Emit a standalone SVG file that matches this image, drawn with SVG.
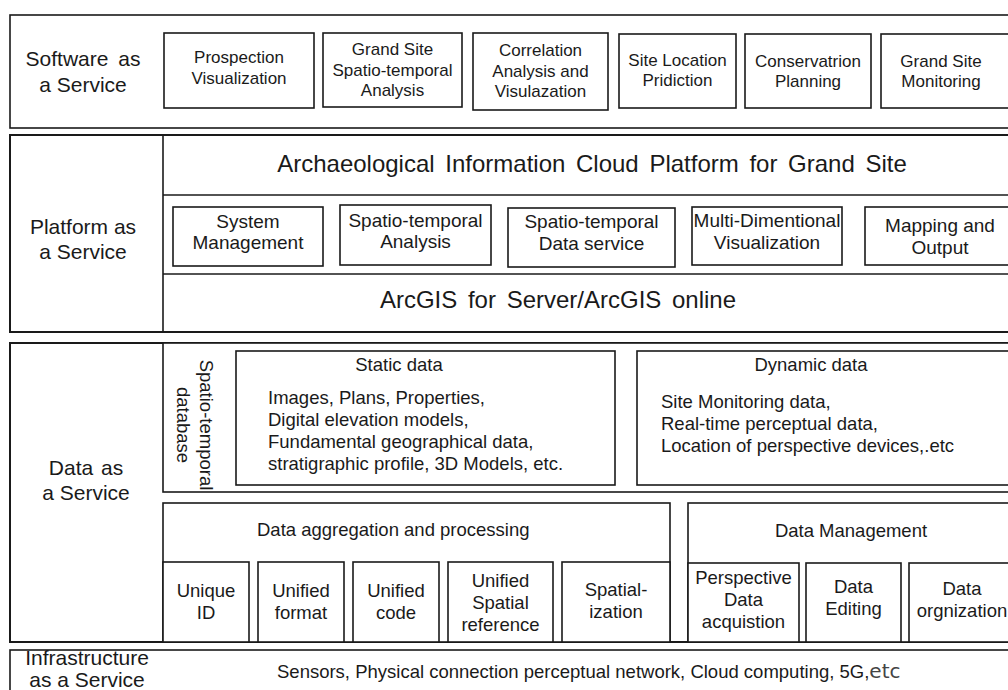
<svg xmlns="http://www.w3.org/2000/svg" width="1008" height="690" viewBox="0 0 1008 690">
<style>
text{font-family:"Liberation Sans",Arial,sans-serif;fill:#1a1a1a}
.b{fill:#fff;stroke:#1a1a1a;stroke-width:1.6}
.n{fill:none;stroke:#1a1a1a;stroke-width:1.6}
.L{font-size:21px;text-anchor:middle}
.s{font-size:17px;text-anchor:middle}
.p{font-size:19px;text-anchor:middle}
.d{font-size:18.5px}
.dm{font-size:18.5px;text-anchor:middle}
.t{font-size:24px;text-anchor:middle;word-spacing:4px}
</style>
<rect width="1008" height="690" fill="#fff"/>

<g id="saas">
<rect class="b" x="10" y="15" width="1010" height="113"/>
<text class="L" x="83" y="66" style="word-spacing:4px">Software as</text>
<text class="L" x="83" y="92">a Service</text>
</g>
<g id="prospection"><rect class="b" x="164" y="33" width="150" height="75"/>
<text class="s" x="239" y="63">Prospection</text><text class="s" x="239" y="84">Visualization</text></g>
<g id="grandsite-st"><rect class="b" x="323" y="33" width="139" height="74"/>
<text class="s" x="392.5" y="55">Grand Site</text><text class="s" x="392.5" y="75.5">Spatio-temporal</text><text class="s" x="392.5" y="96">Analysis</text></g>
<g id="correlation"><rect class="b" x="473" y="33" width="135" height="77"/>
<text class="s" x="540.5" y="56">Correlation</text><text class="s" x="540.5" y="77">Analysis and</text><text class="s" x="540.5" y="97">Visulazation</text></g>
<g id="site-location"><rect class="b" x="619" y="34" width="117" height="74"/>
<text class="s" x="677.5" y="66">Site Location</text><text class="s" x="677.5" y="86">Pridiction</text></g>
<g id="conservation"><rect class="b" x="745" y="34" width="126" height="74"/>
<text class="s" x="808" y="67">Conservatrion</text><text class="s" x="808" y="87">Planning</text></g>
<g id="monitoring"><rect class="b" x="881" y="34" width="140" height="74"/>
<text class="s" x="941" y="67">Grand Site</text><text class="s" x="941" y="87">Monitoring</text></g>

<g id="paas">
<rect class="b" x="10" y="135" width="1010" height="197" style="stroke-width:2"/>
<line class="n" x1="163" y1="135" x2="163" y2="332"/>
<line class="n" x1="163" y1="195" x2="1020" y2="195"/>
<line class="n" x1="163" y1="274" x2="1020" y2="274"/>
<text class="L" x="83" y="234">Platform as</text>
<text class="L" x="83" y="259">a Service</text>
</g>
<g id="platform-title"><text class="t" x="592" y="172">Archaeological Information Cloud Platform for Grand Site</text></g>
<g id="system-mgmt"><rect class="b" x="173" y="207" width="150" height="59"/>
<text class="p" x="248" y="228">System</text><text class="p" x="248" y="249">Management</text></g>
<g id="st-analysis"><rect class="b" x="340" y="205" width="151" height="60"/>
<text class="p" x="415.5" y="227">Spatio-temporal</text><text class="p" x="415.5" y="248">Analysis</text></g>
<g id="st-data-service"><rect class="b" x="508" y="208" width="167" height="59"/>
<text class="p" x="591.5" y="228">Spatio-temporal</text><text class="p" x="591.5" y="250">Data service</text></g>
<g id="multidim"><rect class="b" x="692" y="207" width="150" height="58"/>
<text class="p" x="767" y="227">Multi-Dimentional</text><text class="p" x="767" y="249">Visualization</text></g>
<g id="mapping"><rect class="b" x="865" y="207" width="155" height="58"/>
<text class="p" x="940" y="232">Mapping and</text><text class="p" x="940" y="254">Output</text></g>
<g id="arcgis"><text class="t" x="558" y="308">ArcGIS for Server/ArcGIS online</text></g>

<g id="daas">
<rect class="b" x="10" y="343" width="1010" height="299" style="stroke-width:2"/>
<text class="L" x="86" y="475" style="word-spacing:2px">Data as</text>
<text class="L" x="86" y="500">a Service</text>
</g>
<g id="st-database">
<rect class="b" x="163" y="343" width="857" height="149"/>
<text class="dm" transform="translate(200,425) rotate(90)">Spatio-temporal</text>
<text class="dm" transform="translate(177,425) rotate(90)">database</text>
</g>
<g id="static-data"><rect class="b" x="236" y="351" width="379" height="134"/>
<text class="dm" x="399" y="371">Static data</text>
<text class="d" x="268" y="404">Images, Plans, Properties,</text>
<text class="d" x="268" y="426">Digital elevation models,</text>
<text class="d" x="268" y="448">Fundamental geographical data,</text>
<text class="d" x="268" y="470">stratigraphic profile, 3D Models, etc.</text></g>
<g id="dynamic-data"><rect class="b" x="637" y="351" width="383" height="134"/>
<text class="dm" x="811" y="371">Dynamic data</text>
<text class="d" x="661" y="408">Site Monitoring data,</text>
<text class="d" x="661" y="430">Real-time perceptual data,</text>
<text class="d" x="661" y="452">Location of perspective devices,.etc</text></g>

<g id="aggregation"><rect class="b" x="163" y="503" width="507" height="139"/>
<text class="d" x="257" y="536">Data aggregation and processing</text></g>
<g id="unique-id"><rect class="b" x="163" y="562" width="86" height="80"/>
<text class="dm" x="206" y="597">Unique</text><text class="dm" x="206" y="619">ID</text></g>
<g id="unified-format"><rect class="b" x="258" y="562" width="86" height="80"/>
<text class="dm" x="301" y="597">Unified</text><text class="dm" x="301" y="619">format</text></g>
<g id="unified-code"><rect class="b" x="353" y="562" width="86" height="80"/>
<text class="dm" x="396" y="597">Unified</text><text class="dm" x="396" y="619">code</text></g>
<g id="unified-ref"><rect class="b" x="448" y="562" width="105" height="80"/>
<text class="dm" x="500.5" y="587">Unified</text><text class="dm" x="500.5" y="609">Spatial</text><text class="dm" x="500.5" y="631">reference</text></g>
<g id="spatialization"><rect class="b" x="562" y="562" width="108" height="80"/>
<text class="dm" x="616" y="596">Spatial-</text><text class="dm" x="616" y="618">ization</text></g>

<g id="data-management"><rect class="b" x="688" y="503" width="332" height="139"/>
<text class="dm" x="851" y="537">Data Management</text></g>
<g id="perspective"><rect class="b" x="688" y="563" width="111" height="79"/>
<text class="dm" x="743.5" y="584">Perspective</text><text class="dm" x="743.5" y="606">Data</text><text class="dm" x="743.5" y="628">acquistion</text></g>
<g id="data-editing"><rect class="b" x="806" y="563" width="95" height="79"/>
<text class="dm" x="853.5" y="593">Data</text><text class="dm" x="853.5" y="615">Editing</text></g>
<g id="data-org"><rect class="b" x="909" y="563" width="111" height="79"/>
<text class="dm" x="962" y="595">Data</text><text class="dm" x="962" y="617">orgnization</text></g>

<g id="iaas">
<rect class="b" x="10" y="650" width="1010" height="60"/>
<text class="L" x="87" y="665">Infrastructure</text>
<text class="L" x="87" y="687">as a Service</text>
<text class="d" x="277" y="678">Sensors, Physical connection perceptual network, Cloud computing, 5G,<tspan style="font-family:'DejaVu Sans',sans-serif;font-size:20px;fill:#444">etc</tspan></text>
</g>
</svg>
